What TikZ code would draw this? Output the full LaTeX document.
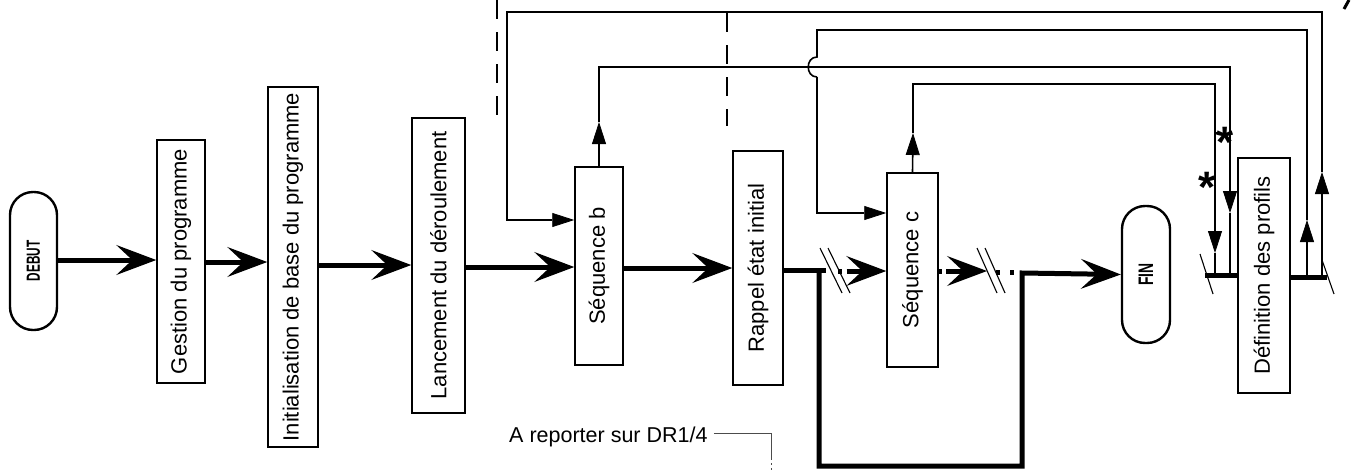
\documentclass[tikz,border=0pt]{standalone}
\usepackage{fontspec}
\setmainfont{Liberation Sans}
\usepackage{graphicx}
\usetikzlibrary{arrows.meta}
\begin{document}
\begin{tikzpicture}[x=1pt,y=-1pt,
  box/.style={draw, line width=1.5pt, inner sep=0pt, font=\fontsize{22}{26}\selectfont},
  term/.style={draw, line width=2.4pt, rounded corners=23pt, inner sep=0pt},
  flow/.style={line width=5pt, -{Stealth[length=40pt,width=30pt,inset=16pt,line width=1.5pt]}},
  heavy/.style={line width=5pt},
  dotsline/.style={line width=5pt, dash pattern=on 3.5pt off 5pt},
  link/.style={line width=1.6pt},
  linkarrow/.style={line width=1.6pt, -{Triangle[length=22pt,width=14pt,line width=0.8pt]}},
  cut/.style={line width=1.1pt},
  guide/.style={line width=1.6pt, dash pattern=on 19pt off 13pt},
  note/.style={line width=0.9pt, draw=black!70},
  mark star/.style={font=\fontsize{44}{44}\selectfont\bfseries, inner sep=0pt},
]
\fill[white] (0,0) rectangle (1352,472);
\useasboundingbox (0,0) rectangle (1352,472);

% terminals
\node[term, minimum width=47pt, minimum height=138pt] (debut) at (33.5,261)
  {\rotatebox{90}{\scalebox{0.62}[1]{\fontsize{19}{19}\selectfont\bfseries DEBUT}}};
\node[term, minimum width=48pt, minimum height=137pt] (fin) at (1146,274.5)
  {\rotatebox{90}{\scalebox{0.66}[1]{\fontsize{21}{21}\selectfont\bfseries FIN}}};

% boxes
\node[box, minimum width=48pt, minimum height=243pt] (gest) at (181,261.5) {\rotatebox{90}{Gestion du programme}};
\node[box, minimum width=50pt, minimum height=360pt] (init) at (293,267) {\rotatebox{90}{Initialisation de base du programme}};
\node[box, minimum width=53pt, minimum height=295pt] (lanc) at (438.5,265.5) {\rotatebox{90}{Lancement du déroulement}};
\node[box, minimum width=48pt, minimum height=198pt] (seqb) at (599,266) {\rotatebox{90}{Séquence b}};
\node[box, minimum width=50pt, minimum height=234pt] (rappel) at (758,268) {\rotatebox{90}{Rappel état initial}};
\node[box, minimum width=51pt, minimum height=194pt] (seqc) at (912.5,270) {\rotatebox{90}{Séquence c}};
\node[box, minimum width=52pt, minimum height=235pt] (def) at (1264,275.5) {\rotatebox{90}{Définition des profils}};

% main flow
\draw[flow] (debut.east |- 0,260) -- (gest.west |- 0,260);
\draw[flow] (gest.east |- 0,262) -- (init.west |- 0,262);
\draw[flow] (init.east |- 0,265) -- (lanc.west |- 0,265);
\draw[flow] (lanc.east |- 0,267) -- (seqb.west |- 0,267);
\draw[flow] (seqb.east |- 0,268) -- (rappel.west |- 0,268);

\coordinate (split) at (819,270);
\coordinate (merge) at (1022,273);
\draw[heavy] (rappel.east |- 0,270) -- (826,270);
\draw[flow] (split) |- (1022,466) -- (merge) -- (fin.west);

% break before séquence c
\draw[cut] (820,248) -- (842,293);
\draw[cut] (828,248) -- (850,293);
\draw[dotsline] (838,271) -- (850,271);
\draw[flow] (848,271) -- (seqc.west |- 0,271);
% break after séquence c
\draw[dotsline] (seqc.east |- 0,271) -- (950,271);
\draw[flow] (946,271) -- (987,271);
\draw[cut] (977,248) -- (997,293);
\draw[cut] (985,248) -- (1005,293);
\draw[line width=5pt, dash pattern=on 4pt off 10pt] (996,272) -- (1020,272);

% bars of Définition des profils
\coordinate (lbar) at (1205,275);
\coordinate (rbar) at (1327,277);
\draw[heavy] (lbar) -- (def.west |- lbar);
\draw[heavy] (def.east |- rbar) -- (rbar);
\draw[cut] (1200,254) -- (1213,294);
\draw[cut] (1322,260) -- (1334,294);

% loop A : outer, into séquence b
\coordinate (aup) at (1322,172);
\draw[linkarrow] (1322,277) -- (aup);
\draw[linkarrow] (aup) |- (507,12) |- (seqb.west |- 0,220);

% loop B : from séquence b to left bar
\coordinate (bup) at (599,122);
\coordinate (bdown) at (1230,213);
\draw[linkarrow] (seqb.north) -- (bup);
\draw[linkarrow] (bup) |- (1230,67) -- (bdown);
\draw[link] (bdown) -- (1230,275);

% loop C : from right bar into séquence c (with hop)
\coordinate (cup) at (1307,220);
\draw[linkarrow] (1307,277) -- (cup);
\draw[link] (cup) |- (817,30) -- (817,57) to[out=180,in=180,looseness=1.5] (817,77);
\draw[linkarrow] (817,77) |- (seqc.west |- 0,213);

% loop D : from séquence c to left bar
\coordinate (dup) at (913,133);
\coordinate (ddown) at (1215,253);
\draw[linkarrow] (seqc.north) -- (dup);
\draw[linkarrow] (dup) |- (1215,84) -- (ddown);
\draw[link] (ddown) -- (1215,275);

% stars
\draw[link] (1215,133) -- (1220,133);
\node[mark star] (star1) at (1225,142) {*};
\node[mark star] (star2) at (1207,187) {*};

% dashed guides
\draw[guide] (497,0) -- (497,117);
\draw[guide] (727,13) -- (727,126);

% note
\node[anchor=base west, inner sep=0pt, font=\fontsize{21.5}{25}\selectfont] (rep) at (509,442) {A reporter sur DR1/4};
\coordinate (repend) at (771,458);
\coordinate (repbottom) at (771,472);
\draw[note] ([xshift=6pt,yshift=9pt]rep.base east) -| (repend);
\draw[note, dash pattern=on 2pt off 3pt] (repend) -- (repbottom);

% scan mark top right
\draw[line width=3pt] (1344,9) -- (1349,0);
\end{tikzpicture}
\end{document}
